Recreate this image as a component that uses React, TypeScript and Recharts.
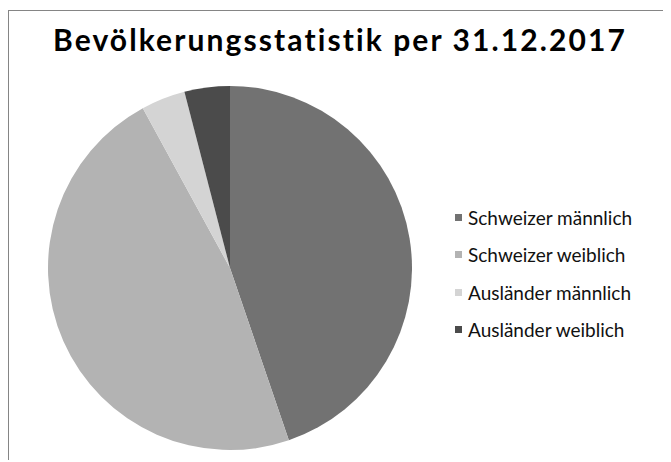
import { Cell, Legend, Pie, PieChart } from "recharts";

const categories = [
  "Schweizer männlich",
  "Schweizer weiblich",
  "Ausländer männlich",
  "Ausländer weiblich",
];
const population = [4476, 4729, 392, 403];
const colors = ["#727272", "#b3b3b3", "#d4d4d4", "#4b4b4b"];

const data = categories.map((name, i) => ({ name, value: population[i] }));

const LegendBox = () => (
  <div style={{ fontFamily: "Lato, sans-serif", fontSize: 19, color: "#111" }}>
    {data.map((d, i) => (
      <div
        key={d.name}
        style={{ display: "flex", alignItems: "flex-start", height: 37.3 }}
      >
        <span
          style={{
            width: 7,
            height: 7,
            marginTop: 6,
            marginRight: 6,
            background: colors[i],
            flex: "none",
          }}
        />
        <span style={{ lineHeight: "20px" }}>{d.name}</span>
      </div>
    ))}
  </div>
);

export default function App() {
  return (
    <div
      style={{
        position: "relative",
        top: 2,
        width: 662,
        height: 451,
        borderTop: "1px solid #858585",
        borderLeft: "1px solid #858585",
        background: "#fff",
      }}
    >
      <div
        style={{
          position: "absolute",
          left: 0,
          width: 662,
          top: 10,
          textAlign: "center",
          fontFamily: "Lato, sans-serif",
          fontWeight: "bold",
          fontSize: 30,
          letterSpacing: 2.1,
          color: "#000",
        }}
      >
        Bevölkerungsstatistik per 31.12.2017
      </div>
      <PieChart width={662} height={451}>
        <Pie
          data={data}
          dataKey="value"
          nameKey="name"
          cx={216}
          cy={252}
          outerRadius={182}
          startAngle={90}
          endAngle={-270}
          stroke="none"
          isAnimationActive={false}
        >
          {data.map((d, i) => (
            <Cell key={d.name} fill={colors[i]} />
          ))}
        </Pie>
        <Legend
          content={() => <LegendBox />}
          wrapperStyle={{ left: 446, top: 197, width: 215 }}
        />
      </PieChart>
    </div>
  );
}
